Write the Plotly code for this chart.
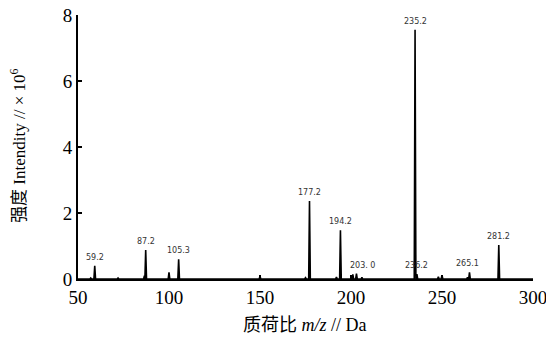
import plotly.graph_objects as go

# Peak list (m/z, intensity ×10^6)
peak_mz = [57.0, 59.2, 72.0, 86.5, 87.2, 100.0, 105.3, 150.0, 175.0, 177.2, 192.0,
           194.2, 201.0, 203.0, 206.0, 235.2, 236.2, 248.0, 250.0, 264.0, 265.1, 281.2]
peak_int = [0.03, 0.40, 0.03, 0.10, 0.88, 0.20, 0.60, 0.08, 0.04, 2.36, 0.06,
            1.48, 0.14, 0.16, 0.05, 7.55, 0.15, 0.07, 0.12, 0.05, 0.20, 1.03]

label_mz = [59.2, 87.2, 105.3, 177.2, 194.2, 203.0, 235.2, 236.2, 265.1, 281.2]
label_text = ["59.2", "87.2", "105.3", "177.2", "194.2", "203. 0", "235.2", "236.2", "265.1", "281.2"]
label_int = [0.40, 0.88, 0.60, 2.36, 1.48, 0.16, 7.55, 0.15, 0.20, 1.03]
label_dx = [0, 0, 0, 0, 0, 3.5, 0, 0, -1, 0]

x_ticks = [50, 100, 150, 200, 250, 300]
y_ticks = [0, 2, 4, 6, 8]

x_title = "质荷比 <i>m/z</i> // Da"
y_title = "强度 Intendity // × 10<sup>6</sup>"

# Build a stick/profile line from the peak list
xs, ys = [50.0], [0.0]
for mz, h in sorted(zip(peak_mz, peak_int)):
    xs += [mz - 0.45, mz, mz + 0.45]
    ys += [0.0, h, 0.0]
xs.append(300.0)
ys.append(0.0)

fig = go.Figure()
fig.add_trace(go.Scatter(x=xs, y=ys, mode="lines",
                         line=dict(color="black", width=1.6),
                         hoverinfo="skip", showlegend=False))

for mz, t, h, dx in zip(label_mz, label_text, label_int, label_dx):
    fig.add_annotation(x=mz + dx, y=h, text=t, showarrow=False,
                       yanchor="bottom", yshift=2,
                       font=dict(family="DejaVu Sans", size=8, color="#333333"))

serif = "Liberation Serif, Noto Sans CJK SC, serif"

fig.add_annotation(xref="paper", yref="paper", x=0.499, y=-0.174, text=x_title,
                   showarrow=False, xanchor="center", yanchor="middle",
                   font=dict(family=serif, size=18, color="black"))
fig.add_annotation(xref="paper", yref="paper", x=-0.132, y=0.504, text=y_title,
                   showarrow=False, xanchor="center", yanchor="middle", textangle=-90,
                   font=dict(family=serif, size=17, color="black"))

fig.update_layout(
    width=546, height=344,
    margin=dict(l=78, r=13, t=15, b=65),
    paper_bgcolor="white", plot_bgcolor="white",
    font=dict(family=serif, color="black"),
    xaxis=dict(range=[50, 300], tickvals=x_ticks, ticktext=[str(v) for v in x_ticks],
               showgrid=False, zeroline=False, showline=True, linecolor="black",
               linewidth=2, ticks="inside", ticklen=4, tickwidth=1.5, tickcolor="black",
               tickfont=dict(family=serif, size=19), automargin=False,
               ticklabeloverflow="allow"),
    yaxis=dict(range=[0, 8], tickvals=y_ticks, ticktext=[str(v) for v in y_ticks],
               showgrid=False, zeroline=False, showline=True, linecolor="black",
               linewidth=2, ticks="inside", ticklen=4, tickwidth=1.5, tickcolor="black",
               tickfont=dict(family=serif, size=19), automargin=False,
               ticklabeloverflow="allow"),
)

fig.write_html("out.html",
               config={"displayModeBar": False, "staticPlot": True},
               post_script="document.body.style.margin='0';"
                           "document.body.style.overflow='hidden';")
